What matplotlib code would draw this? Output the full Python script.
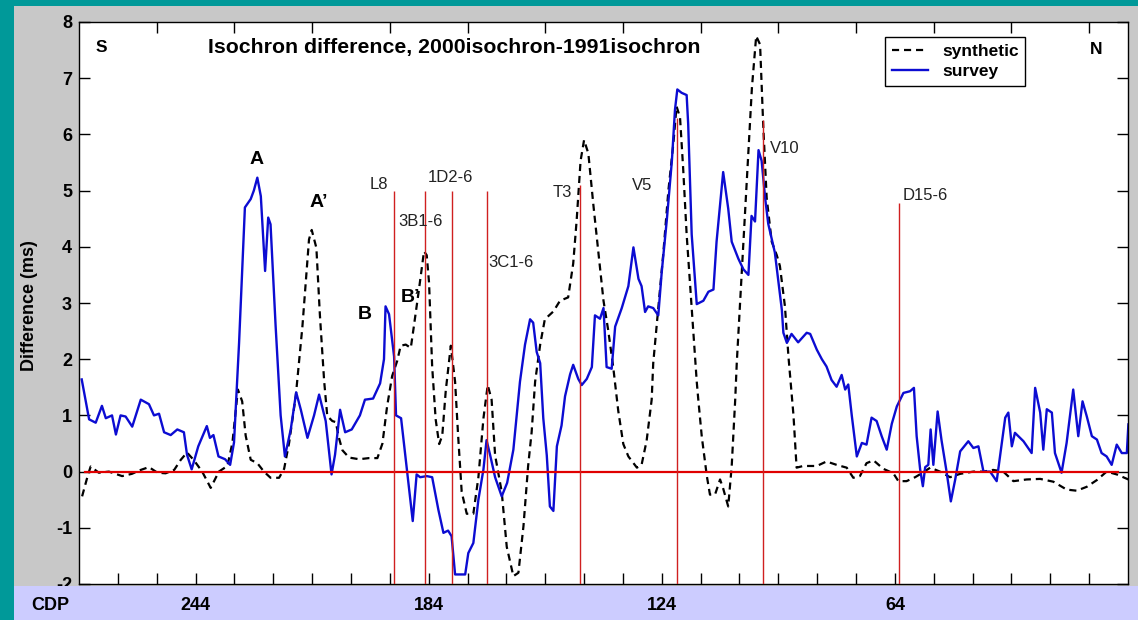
import numpy as np
import matplotlib
matplotlib.use("Agg")
import matplotlib.pyplot as plt
from matplotlib.patches import Rectangle
from matplotlib.transforms import blended_transform_factory

plt.rcParams['font.family'] = ['Liberation Sans', 'DejaVu Sans']

# survey isochron difference (CDP, ms)
survey_cdp = [273.3, 271.4, 269.7, 268.1, 267.1, 265.5, 264.5, 263.3, 262.0, 260.3,
              258.1, 256.0, 254.7, 253.4, 252.1, 250.4, 248.7, 247.0, 246.2, 245.0,
              243.3, 241.1, 240.3, 239.4, 238.1, 236.4, 235.1, 234.1, 232.8, 231.3,
              229.8, 229.0, 228.1, 227.2, 226.1, 225.3, 224.7, 223.4, 222.1, 221.0,
              219.5, 218.1, 216.9, 215.2, 213.5, 212.2, 210.5, 209.0, 208.1, 206.8,
              205.5, 203.8, 201.7, 200.4, 198.3, 196.5, 195.5, 195.1, 194.2, 192.9,
              192.4, 191.1, 189.7, 188.1, 187.1, 186.2, 184.5, 183.1, 181.5, 180.2,
              179.0, 178.1, 177.2, 174.6, 173.8, 172.5, 171.2, 169.9, 169.1, 168.2,
              166.9, 165.2, 163.8, 162.2, 160.5, 159.2, 157.9, 157.1, 156.2, 155.3,
              154.5, 153.6, 152.8, 151.9, 151.0, 149.8, 148.9, 147.6, 146.8, 145.5,
              144.6, 143.3, 142.0, 141.2, 139.9, 139.0, 138.2, 136.9, 136.0, 134.3,
              132.6, 131.3, 130.0, 129.2, 128.3, 127.5, 126.2, 124.9, 124.0, 122.7,
              121.4, 120.6, 120.0, 118.9, 117.6, 117.2, 116.3, 115.0, 113.3, 112.0,
              110.7, 109.9, 108.2, 106.9, 106.0, 104.3, 103.0, 101.7, 100.9, 100.0,
              99.1, 98.3, 97.4, 96.6, 94.9, 93.1, 92.7, 91.8, 90.6, 88.9,
              86.7, 85.8, 84.1, 82.8, 81.6, 80.3, 79.0, 77.7, 76.8, 76.0,
              75.1, 73.8, 72.5, 71.3, 70.0, 68.7, 67.4, 66.1, 64.8, 63.5,
              61.8, 60.1, 59.1, 58.4, 57.5, 56.8, 56.2, 55.4, 54.8, 54.1,
              53.0, 52.0, 50.7, 49.6, 48.5, 47.2, 45.1, 43.8, 42.5, 41.2,
              39.5, 37.8, 35.6, 34.8, 33.9, 33.1, 30.9, 28.8, 27.9, 26.6,
              25.8, 24.9, 23.6, 22.8, 21.1, 19.8, 18.1, 16.8, 15.7, 14.6,
              13.3, 12.0, 10.8, 9.5, 8.2, 6.9, 5.6, 4.3, 3.9]
survey_ms = [1.64, 0.93, 0.87, 1.17, 0.95, 1.0, 0.66, 1.0, 0.98, 0.8,
             1.28, 1.2, 1.0, 1.03, 0.7, 0.65, 0.75, 0.7, 0.3, 0.04,
             0.45, 0.81, 0.6, 0.65, 0.27, 0.22, 0.12, 0.52, 2.29, 4.7,
             4.85, 5.0, 5.23, 4.9, 3.57, 4.52, 4.4, 2.6, 1.0, 0.27,
             0.75, 1.41, 1.1, 0.6, 1.0, 1.37, 0.9, -0.05, 0.3, 1.1,
             0.7, 0.75, 1.0, 1.28, 1.3, 1.57, 2.0, 2.94, 2.8, 2.05,
             1.0, 0.95, 0.1, -0.88, -0.05, -0.1, -0.08, -0.1, -0.68, -1.09,
             -1.05, -1.15, -1.83, -1.83, -1.45, -1.27, -0.5, 0.04, 0.56, 0.3,
             -0.1, -0.44, -0.2, 0.39, 1.6, 2.26, 2.71, 2.65, 2.13, 1.93,
             0.95, 0.29, -0.62, -0.7, 0.45, 0.82, 1.34, 1.73, 1.9, 1.65,
             1.54, 1.65, 1.86, 2.78, 2.72, 2.91, 1.86, 1.83, 2.58, 2.91,
             3.3, 3.99, 3.43, 3.3, 2.84, 2.94, 2.91, 2.78, 3.56, 4.48,
             5.53, 6.44, 6.8, 6.74, 6.7, 6.18, 4.22, 2.98, 3.04, 3.2,
             3.24, 4.09, 5.33, 4.68, 4.09, 3.79, 3.6, 3.5, 4.55, 4.45,
             5.72, 5.53, 4.87, 4.41, 3.9, 2.88, 2.47, 2.29, 2.45, 2.3,
             2.47, 2.45, 2.17, 2.0, 1.87, 1.63, 1.51, 1.72, 1.46, 1.55,
             1.0, 0.27, 0.51, 0.48, 0.96, 0.9, 0.63, 0.39, 0.85, 1.16,
             1.4, 1.43, 1.49, 0.63, 0.04, -0.26, 0.08, 0.12, 0.75, 0.12,
             1.07, 0.56, 0.0, -0.53, -0.15, 0.36, 0.54, 0.42, 0.45, 0.0,
             0.0, -0.17, 0.96, 1.05, 0.45, 0.69, 0.54, 0.33, 1.49, 1.05,
             0.39, 1.11, 1.05, 0.33, -0.02, 0.51, 1.46, 0.63, 1.25, 0.98,
             0.63, 0.57, 0.33, 0.27, 0.12, 0.48, 0.33, 0.33, 0.84]

# synthetic isochron difference (CDP, ms)
synthetic_cdp = [273.2, 271.7, 271.0, 268.9, 266.3, 262.9, 260.4, 258.1, 256.0, 253.8,
                 251.7, 249.5, 247.8, 246.2, 244.4, 242.3, 240.1, 238.0, 235.8, 234.5,
                 233.1, 232.0, 231.1, 229.8, 228.1, 226.4, 224.7, 222.5, 221.2, 219.9,
                 218.2, 216.5, 214.8, 214.1, 212.9, 212.0, 210.9, 210.1, 208.8, 207.9,
                 207.1, 206.2, 204.5, 201.9, 199.4, 197.2, 195.9, 194.7, 193.4, 192.1,
                 191.2, 189.9, 188.6, 187.8, 186.5, 185.2, 184.5, 183.9, 183.1, 182.2,
                 181.3, 180.5, 179.6, 178.3, 177.2, 176.4, 175.5, 174.2, 172.5, 171.2,
                 169.9, 168.8, 167.8, 166.9, 165.2, 163.9, 162.2, 160.9, 159.6, 158.4,
                 157.5, 156.6, 155.3, 154.1, 151.9, 150.2, 148.1, 146.8, 145.9, 144.9,
                 144.0, 142.9, 141.6, 140.3, 139.0, 137.8, 136.5, 135.2, 133.9, 132.6,
                 130.4, 129.2, 127.9, 126.6, 126.2, 124.9, 123.6, 122.3, 121.0, 120.2,
                 119.3, 118.5, 117.6, 116.3, 115.0, 114.6, 113.7, 112.4, 111.6, 110.3,
                 109.0, 108.2, 106.9, 106.0, 105.1, 104.7, 103.4, 102.1, 100.8, 99.7,
                 98.7, 97.9, 97.0, 95.7, 94.4, 93.6, 92.3, 91.4, 90.1, 89.3,
                 87.6, 85.8, 84.1, 81.6, 79.0, 76.4, 74.7, 73.0, 71.3, 69.5,
                 67.0, 64.4, 63.1, 61.0, 58.8, 57.1, 54.9, 52.4, 49.8, 47.2,
                 43.8, 41.2, 38.7, 36.1, 33.5, 30.1, 26.6, 23.2, 19.8, 17.2,
                 14.6, 12.0, 9.5, 6.9, 3.9]
synthetic_ms = [-0.44, -0.06, 0.09, -0.02, 0.0, -0.08, -0.04, 0.03, 0.08, -0.02,
                -0.03, 0.03, 0.21, 0.34, 0.2, 0.0, -0.29, 0.0, 0.1, 0.52,
                1.46, 1.25, 0.64, 0.21, 0.15, 0.0, -0.11, -0.11, 0.05, 0.52,
                1.35, 2.58, 4.13, 4.3, 3.98, 2.79, 1.61, 0.99, 0.9, 0.88,
                0.6, 0.38, 0.25, 0.22, 0.24, 0.24, 0.5, 1.16, 1.7, 1.97,
                2.24, 2.26, 2.2, 2.59, 3.24, 3.92, 3.85, 3.36, 1.87, 0.93,
                0.49, 0.64, 1.44, 2.24, 1.6, 0.62, -0.36, -0.75, -0.75, -0.1,
                0.95, 1.54, 1.28, 0.29, -0.36, -1.34, -1.86, -1.8, -0.97, 0.1,
                0.7, 1.6, 2.26, 2.71, 2.85, 3.04, 3.1, 3.7, 4.48, 5.53,
                5.9, 5.66, 4.74, 3.89, 3.04, 2.52, 1.86, 1.08, 0.49, 0.27,
                0.07, 0.12, 0.55, 1.28, 1.93, 2.91, 3.89, 5.0, 5.85, 6.5,
                6.3, 5.4, 4.22, 2.91, 1.6, 1.28, 0.62, -0.08, -0.41, -0.41,
                -0.14, -0.3, -0.62, 0.1, 1.28, 1.93, 3.56, 5.2, 6.83, 7.75,
                7.6, 6.18, 4.87, 4.09, 3.85, 3.66, 2.94, 2.05, 1.0, 0.07,
                0.1, 0.1, 0.1, 0.18, 0.12, 0.07, -0.11, -0.08, 0.15, 0.2,
                0.05, -0.03, -0.17, -0.17, -0.1, -0.03, 0.07, 0.0, -0.1, -0.04,
                0.0, 0.0, 0.03, 0.0, -0.17, -0.14, -0.13, -0.18, -0.32, -0.34,
                -0.27, -0.15, 0.0, -0.05, -0.14]

# well markers: name, CDP, top of marker line (ms), label position (CDP, ms)
well_names = ['L8', '3B1-6', '1D2-6', '3C1-6', 'T3', 'V5', 'V10', 'D15-6']
well_cdp = [193, 185, 178, 169, 145, 120, 98, 63]
well_top = [5.0, 5.0, 5.0, 5.0, 5.1, 6.3, 6.25, 4.78]
well_label_cdp = [199.1, 191.9, 184.2, 168.7, 152.0, 131.7, 96.1, 61.9]
well_label_ms = [5.11, 4.45, 5.23, 3.72, 4.96, 5.09, 5.75, 4.91]

# anomaly letters
anomaly_names = ['A', 'A\u2019', 'B', 'B\u2019']
anomaly_cdp = [228.2, 212.3, 200.4, 188.8]
anomaly_ms = [5.55, 4.79, 2.79, 3.1]

zero_span = [272.5, 6.5]
cdp_labels = [244, 184, 124, 64]

W, H = 1138, 620
fig = plt.figure(figsize=(W / 100, H / 100), dpi=100, facecolor='#009999')

# grey panel and lavender CDP strip
fig.add_artist(Rectangle((14 / W, (H - 586) / H), (W - 14) / W, 580 / H,
                         transform=fig.transFigure, facecolor='#c8c8c8',
                         edgecolor='none', zorder=-2))
fig.add_artist(Rectangle((14 / W, 0), (W - 14) / W, (H - 586) / H,
                         transform=fig.transFigure, facecolor='#ccccff',
                         edgecolor='none', zorder=5))

ax = fig.add_axes([79 / W, 36 / H, 1049 / W, 562 / H])
ax.set_facecolor('white')

ax.plot(synthetic_cdp, synthetic_ms, color='black', lw=1.6,
        linestyle=(0, (3.2, 2.2)), label='synthetic', zorder=2)
ax.plot(survey_cdp, survey_ms, color='#0c0cd2', lw=1.7, label='survey', zorder=2.5)

ax.plot(zero_span, [0, 0], color='#e00000', lw=1.6, zorder=3)
ax.vlines(well_cdp, -2, well_top, color='#d02020', lw=1.0, zorder=3)
for name, x, y in zip(well_names, well_label_cdp, well_label_ms):
    ax.text(x, y, name, fontsize=12, color='#222222', ha='left', va='center')

for name, x, y in zip(anomaly_names, anomaly_cdp, anomaly_ms):
    ax.text(x, y, name, fontsize=14, fontweight='bold', ha='center', va='center')

ax.text(0.3575, 0.9555, 'Isochron difference, 2000isochron-1991isochron',
        transform=ax.transAxes, fontsize=15.3, fontweight='bold',
        ha='center', va='center')
ax.text(0.021, 0.9555, 'S', transform=ax.transAxes, fontsize=12.5,
        fontweight='bold', ha='center', va='center')
ax.text(0.970, 0.951, 'N', transform=ax.transAxes, fontsize=12.5,
        fontweight='bold', ha='center', va='center')

ax.set_xlim(274, 4)
ax.set_ylim(-2, 8)
ax.set_xticks(np.arange(254, 4, -20))
ax.set_xticks(np.arange(264, 4, -20), minor=True)
ax.set_xticklabels([])
ax.set_xticklabels([], minor=True)
ax.set_yticks(np.arange(-2, 9, 1))
ax.set_yticklabels([str(v) for v in range(-2, 9)], fontsize=13, fontweight='bold')
ax.tick_params(axis='x', which='major', direction='in', length=8, width=1,
               top=True, bottom=True)
ax.tick_params(axis='x', which='minor', direction='in', length=8, width=1,
               top=False, bottom=True)
ax.tick_params(axis='y', direction='in', length=8, width=1, left=True,
               right=True, pad=5)
for s in ax.spines.values():
    s.set_linewidth(1.0)

ax.set_ylabel('Difference (ms)', fontsize=13, fontweight='bold')
ax.yaxis.set_label_coords(-0.039, 0.496)

leg = ax.legend(loc='upper left', bbox_to_anchor=(0.768, 0.973),
                borderaxespad=0, prop={'weight': 'bold', 'size': 12.5},
                handlelength=2.1, handletextpad=0.8, labelspacing=0.25,
                borderpad=0.4, fancybox=False, framealpha=1, edgecolor='black')
leg.get_frame().set_linewidth(1.0)

# CDP strip labels
strip = blended_transform_factory(ax.transData, fig.transFigure)
fig.text(50 / W, (H - 605) / H, 'CDP', fontsize=13, fontweight='bold',
         ha='center', va='center', zorder=6)
for c in cdp_labels:
    fig.text(c, (H - 605) / H, str(c), transform=strip, fontsize=13,
             fontweight='bold', ha='center', va='center', zorder=6)

fig.savefig('out.png', dpi=100, facecolor=fig.get_facecolor())
